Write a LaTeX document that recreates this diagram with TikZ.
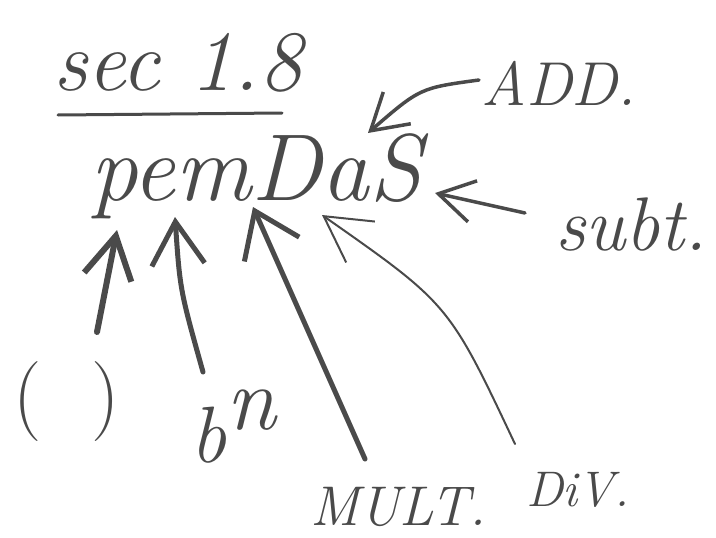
\documentclass[tikz,border=0pt]{standalone}
\usepackage{fontspec}
\usetikzlibrary{arrows.meta}
\definecolor{ink}{HTML}{4A4A4A}
\begin{document}
\begin{tikzpicture}[x=1pt,y=-1pt,
  hw/.style={text=ink, inner sep=0pt, outer sep=0pt, anchor=base west},
  pen/.style={draw=ink, line cap=round, line join=round},
  barb/.style 2 args={-{Straight Barb[length=#1pt,width=#2pt]}}]
\useasboundingbox (0,0) rectangle (716,538);
% title
\node[hw, font=\fontsize{86}{86}\selectfont\itshape] (sec) at (53,90) {sec 1.8};
\draw[pen, line width=3pt] ([shift={(5,25)}]sec.base west) -- ([shift={(229,23)}]sec.base west);
% main word
\node[hw, font=\fontsize{95}{95}\selectfont\itshape] (pem) at (90,200) {pemDaS};
\coordinate (tipP) at ([shift={(27,30)}]pem.base west);
\coordinate (tipE) at ([shift={(85,17)}]pem.base west);
\coordinate (tipM) at ([shift={(163,7)}]pem.base west);
\coordinate (tipD) at ([shift={(232,15)}]pem.base west);
\coordinate (tipA) at ([shift={(278,-67)}]pem.base west);
\coordinate (tipS) at ([shift={(345,-7)}]pem.base west);
% labels
\node[hw, font=\fontsize{62}{62}\selectfont\itshape] (add) at (481,105) {ADD.};
\node[hw, font=\fontsize{76}{76}\selectfont\itshape] (subt) at (555,250) {subt.};
\node[hw, font=\fontsize{80}{80}\selectfont] (paren) at (13,421) {(\hspace{50pt})};
\node[hw, font=\fontsize{80}{80}\selectfont\itshape] (bn) at (190,462) {b\raisebox{33pt}{\fontsize{90}{90}\selectfont n}};
\node[hw, font=\fontsize{56}{56}\selectfont\itshape] (mult) at (310,525) {MULT.};
\node[hw, font=\fontsize{50}{50}\selectfont\itshape] (div) at (526,506) {DiV.};
% arrows
\draw[pen, line width=6pt, barb={42}{48}] ([shift={(84,-89)}]paren.base west) -- (tipP);
\draw[pen, line width=5pt, barb={43}{53}] ([shift={(13,-90)}]bn.base west) .. controls (180,290) .. (tipE);
\draw[pen, line width=5pt, barb={42}{60}] ([shift={(55,-66)}]mult.base west) -- (tipM);
\draw[pen, line width=2pt, barb={45}{50}] ([shift={(-11,-62)}]div.base west) .. controls (449,304) .. (tipD);
\draw[pen, line width=3.5pt, barb={35}{42}] ([shift={(-2,-25)}]add.base west) .. controls (420,88) .. (tipA);
\draw[pen, line width=3.5pt, barb={35}{42}] ([shift={(-30,-37)}]subt.base west) -- (tipS);
\end{tikzpicture}
\end{document}
